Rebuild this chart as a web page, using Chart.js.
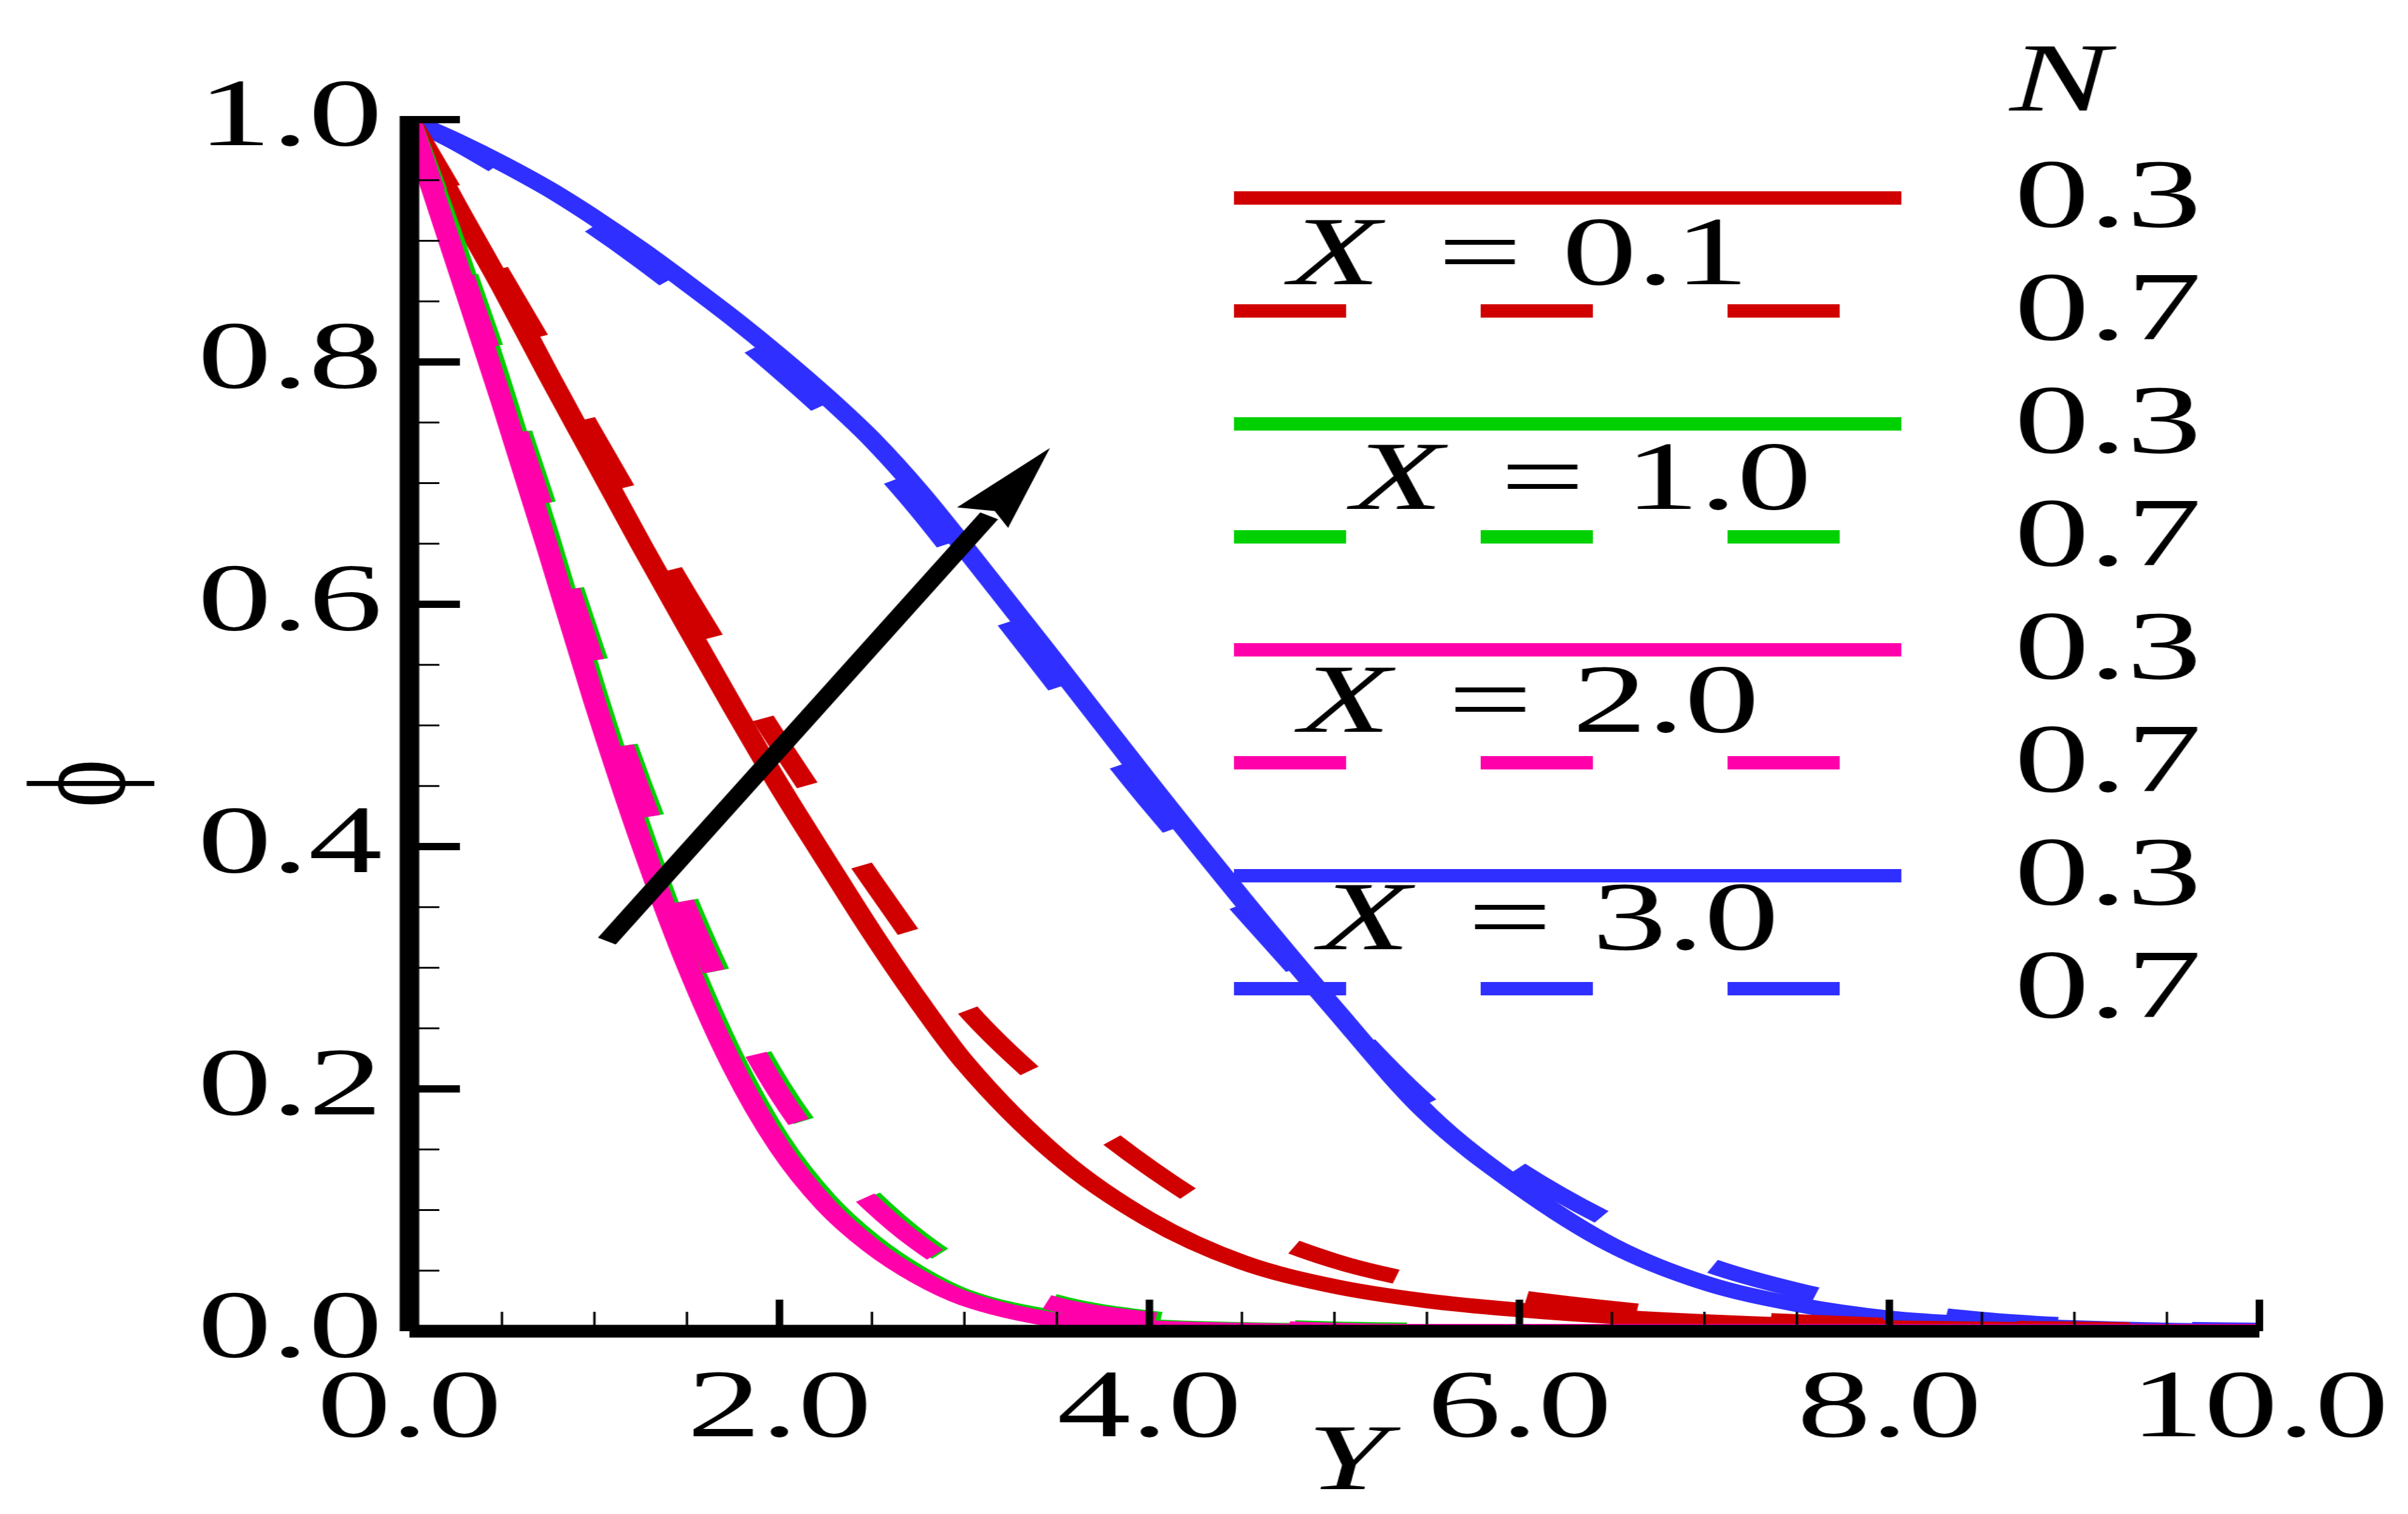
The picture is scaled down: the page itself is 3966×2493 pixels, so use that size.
<!DOCTYPE html>
<html>
<head>
<meta charset="utf-8">
<script src="https://cdn.jsdelivr.net/npm/chart.js@4.4.1/dist/chart.umd.min.js"></script>
<style>
  html, body { margin: 0; padding: 0; background: #fff; overflow: hidden; }
  #chart { display: block; transform-origin: 0 0; }
</style>
</head>
<body>
<canvas id="chart" width="2576" height="2493"></canvas>
<script>
// Y position across the layer
const yPos = [0, 0.25, 0.5, 0.75, 1, 1.25, 1.5, 1.75, 2, 2.25, 2.5, 2.75, 3, 3.5, 4, 4.5, 5, 5.5, 6, 6.5, 7, 7.5, 8, 8.5, 9, 9.5, 10];

// phi profiles, N = 0.3 (solid) and N = 0.7 (dashed)
const phiX01N03 = [1, 0.93, 0.862, 0.79, 0.72, 0.65, 0.582, 0.515, 0.45, 0.389, 0.329, 0.273, 0.222, 0.145, 0.092, 0.057, 0.037, 0.025, 0.0175, 0.012, 0.008, 0.005, 0.003, 0.002, 0.001, 0, 0];
const phiX01N07 = [1, 0.935, 0.87, 0.805, 0.738, 0.672, 0.607, 0.545, 0.485, 0.428, 0.372, 0.318, 0.268, 0.195, 0.135, 0.088, 0.058, 0.04, 0.028, 0.019, 0.012, 0.008, 0.005, 0.003, 0.002, 0.001, 0];
const phiX10N03 = [1, 0.895, 0.779, 0.657, 0.531, 0.415, 0.312, 0.226, 0.158, 0.109, 0.074, 0.048, 0.029, 0.011, 0.004, 0.0015, 0.0005, 0, 0, 0, 0, 0, 0, 0, 0, 0, 0];
const phiX10N07 = [1, 0.898, 0.789, 0.675, 0.56, 0.452, 0.356, 0.272, 0.203, 0.15, 0.11, 0.077, 0.052, 0.024, 0.011, 0.005, 0.002, 0.001, 0, 0, 0, 0, 0, 0, 0, 0, 0];
const phiX20N03 = [1, 0.884, 0.767, 0.645, 0.52, 0.405, 0.303, 0.218, 0.152, 0.104, 0.07, 0.045, 0.027, 0.009, 0.003, 0.001, 0, 0, 0, 0, 0, 0, 0, 0, 0, 0, 0];
const phiX20N07 = [1, 0.889, 0.779, 0.665, 0.55, 0.443, 0.347, 0.264, 0.196, 0.144, 0.105, 0.073, 0.049, 0.022, 0.01, 0.004, 0.001, 0, 0, 0, 0, 0, 0, 0, 0, 0, 0];
const phiX30N03 = [1, 0.983, 0.964, 0.943, 0.919, 0.893, 0.865, 0.836, 0.805, 0.772, 0.736, 0.694, 0.647, 0.55, 0.452, 0.357, 0.266, 0.18, 0.119, 0.071, 0.04, 0.022, 0.011, 0.006, 0.003, 0.001, 0];
const phiX30N07 = [1, 0.981, 0.959, 0.936, 0.911, 0.884, 0.855, 0.825, 0.793, 0.759, 0.722, 0.679, 0.631, 0.533, 0.437, 0.349, 0.265, 0.188, 0.133, 0.09, 0.056, 0.034, 0.019, 0.01, 0.005, 0.002, 0.001];

const xTickValues = [0, 2, 4, 6, 8, 10];
const yTickValues = [0, 0.2, 0.4, 0.6, 0.8, 1.0];
const groupLabels = ['0.1', '1.0', '2.0', '3.0'];
const nLabels = ['0.3', '0.7'];

const RED = '#d10000';
const GREEN = '#00d000';
const PINK = '#ff00aa';
const BLUE = '#2f2fff';
const FONT = '"Liberation Serif", "Times New Roman", "DejaVu Serif", serif';
const DASH = [120, 144];

// the original figure is stretched sideways, so draw narrow and scale the canvas
const canvas = document.getElementById('chart');
const STRETCH = 3966 / canvas.width;
canvas.style.transform = 'scaleX(' + STRETCH + ')';

const series = [
  { values: phiX20N03, color: PINK, group: 2, dashed: false, order: 1 },
  { values: phiX20N07, color: PINK, group: 2, dashed: true, order: 2 },
  { values: phiX10N03, color: GREEN, group: 1, dashed: false, order: 3 },
  { values: phiX10N07, color: GREEN, group: 1, dashed: true, order: 4 },
  { values: phiX01N03, color: RED, group: 0, dashed: false, order: 5 },
  { values: phiX01N07, color: RED, group: 0, dashed: true, order: 6 },
  { values: phiX30N03, color: BLUE, group: 3, dashed: false, order: 7 },
  { values: phiX30N07, color: BLUE, group: 3, dashed: true, order: 8 }
];

const datasets = series.map(s => ({
  label: 'X = ' + groupLabels[s.group] + ', N = ' + (s.dashed ? nLabels[1] : nLabels[0]),
  data: yPos.map((x, i) => ({ x: x, y: s.values[i] })),
  borderColor: s.color,
  borderWidth: 24,
  borderDash: s.dashed ? DASH : [],
  borderJoinStyle: 'round',
  pointRadius: 0,
  fill: false,
  cubicInterpolationMode: 'monotone',
  order: s.order
}));

// axes with inward ticks, legend, arrow and axis titles
const decor = {
  id: 'decor',
  afterDatasetsDraw(chart) {
    const ctx = chart.ctx;
    const x = chart.scales.x;
    const y = chart.scales.y;
    const x0 = x.getPixelForValue(0);
    const y0 = y.getPixelForValue(0);
    const seg = (ax, ay, bx, by, w) => {
      ctx.lineWidth = w;
      ctx.beginPath();
      ctx.moveTo(ax, ay);
      ctx.lineTo(bx, by);
      ctx.stroke();
    };
    ctx.save();
    ctx.strokeStyle = '#000';
    ctx.fillStyle = '#000';
    ctx.lineCap = 'butt';
    ctx.setLineDash([]);

    // minor and major ticks
    for (let v = 0; v <= 10.001; v += 0.5) {
      const px = x.getPixelForValue(v);
      const major = xTickValues.some(t => Math.abs(t - v) < 1e-6);
      seg(px, y0, px, y0 - (major ? 52 : 32), major ? 8 : 2.6);
    }
    for (let v = 0; v <= 1.0001; v += 0.05) {
      const py = y.getPixelForValue(v);
      const major = yTickValues.some(t => Math.abs(t - v) < 1e-6);
      seg(x0, py, x0 + (major ? 54 : 32), py, major ? 12 : 3);
    }
    // axis lines
    seg(x0, y.getPixelForValue(1) - 6, x0, y0, 21);
    seg(x0, y0, x.getPixelForValue(10), y0, 21);

    // arrow
    const P = (a, b) => [x.getPixelForValue(a), y.getPixelForValue(b)];
    const tail = P(1.067, 0.322), notch = P(3.164, 0.677), tip = P(3.462, 0.729);
    const b1 = P(2.96, 0.680), b2 = P(3.236, 0.663);
    seg(tail[0], tail[1], notch[0] - 6, notch[1] + 8, 22);
    ctx.beginPath();
    ctx.moveTo(tip[0], tip[1]);
    ctx.lineTo(b1[0], b1[1]);
    ctx.lineTo(notch[0], notch[1]);
    ctx.lineTo(b2[0], b2[1]);
    ctx.closePath();
    ctx.fill();

    // legend
    const lx0 = 1320, lx1 = 2034;
    const textLeft = [1379, 1446, 1390, 1411];
    const textBase = [468, 838, 1205, 1563];
    ctx.textBaseline = 'alphabetic';
    ctx.textAlign = 'left';
    for (let g = 0; g < 4; g++) {
      const solid = chart.data.datasets.find((d, i) => series[i].group === g && !series[i].dashed);
      const rows = [326 + 372 * g, 512 + 372 * g];
      rows.forEach((ry, k) => {
        ctx.strokeStyle = solid.borderColor;
        ctx.setLineDash(k === 0 ? [] : DASH);
        seg(lx0, ry, lx1, ry, 22);
        ctx.setLineDash([]);
        ctx.font = '160px ' + FONT;
        ctx.fillText(nLabels[k], 2155, ry + 47);
      });
      ctx.font = 'italic 160px ' + FONT;
      ctx.fillText('X', textLeft[g], textBase[g]);
      ctx.font = '160px ' + FONT;
      ctx.fillText('=', textLeft[g] + 159, textBase[g]);
      ctx.fillText(groupLabels[g], textLeft[g] + 292, textBase[g]);
    }
    ctx.font = 'italic 160px ' + FONT;
    ctx.fillText('N', 2150, 182);

    // axis titles
    ctx.font = 'italic 155px ' + FONT;
    ctx.textAlign = 'center';
    ctx.fillText('Y', x.getPixelForValue(5.07), 2452);
    ctx.font = '150px ' + FONT;
    ctx.translate(94, 1290);
    ctx.rotate(-Math.PI / 2);
    ctx.textBaseline = 'middle';
    ctx.fillText('\u03d5', 0, 0);
    ctx.restore();
  }
};

new Chart(canvas, {
  type: 'line',
  data: { datasets: datasets },
  options: {
    responsive: false,
    devicePixelRatio: 1,
    animation: false,
    layout: { padding: { top: 197, right: 159, bottom: 0, left: 0 } },
    plugins: { legend: { display: false }, tooltip: { enabled: false } },
    scales: {
      x: {
        type: 'linear',
        min: 0,
        max: 10,
        afterBuildTicks: s => { s.ticks = xTickValues.map(v => ({ value: v })); },
        afterFit: s => { s.height = 301; },
        grid: { display: false, drawTicks: false },
        border: { display: false },
        ticks: {
          color: '#000',
          padding: 0,
          maxRotation: 0,
          font: { family: FONT, size: 158, lineHeight: 1.66 },
          callback: v => v.toFixed(1)
        }
      },
      y: {
        type: 'linear',
        min: 0,
        max: 1,
        afterBuildTicks: s => { s.ticks = yTickValues.map(v => ({ value: v })); },
        afterFit: s => { s.width = 438; },
        grid: { display: false, drawTicks: false },
        border: { display: false },
        ticks: {
          color: '#000',
          padding: 29,
          font: { family: FONT, size: 158, lineHeight: 1 },
          callback: v => v.toFixed(1)
        }
      }
    }
  },
  plugins: [decor]
});
</script>
</body>
</html>
